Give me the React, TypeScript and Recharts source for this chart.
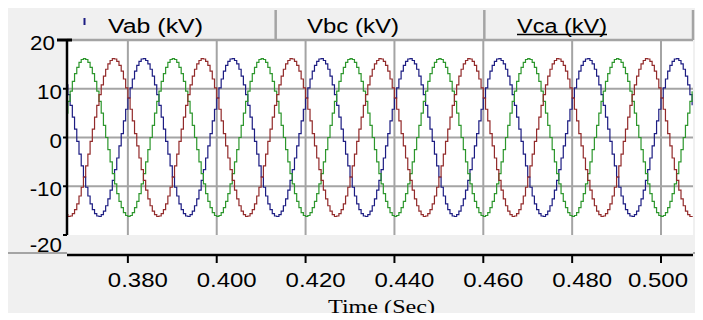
import React from 'react';
import { LineChart, Line, XAxis, YAxis, ReferenceLine, ReferenceArea } from 'recharts';

// Sample times (s)
const timeSec = [
  0.366, 0.3665, 0.367, 0.3675, 0.368, 0.3685, 0.369, 0.3695, 0.37, 0.3705, 0.371, 0.3715, 0.372, 0.3725, 0.373, 0.3735, 0.374, 0.3745, 0.375, 0.3755,
  0.376, 0.3765, 0.377, 0.3775, 0.378, 0.3785, 0.379, 0.3795, 0.38, 0.3805, 0.381, 0.3815, 0.382, 0.3825, 0.383, 0.3835, 0.384, 0.3845, 0.385, 0.3855,
  0.386, 0.3865, 0.387, 0.3875, 0.388, 0.3885, 0.389, 0.3895, 0.39, 0.3905, 0.391, 0.3915, 0.392, 0.3925, 0.393, 0.3935, 0.394, 0.3945, 0.395, 0.3955,
  0.396, 0.3965, 0.397, 0.3975, 0.398, 0.3985, 0.399, 0.3995, 0.4, 0.4005, 0.401, 0.4015, 0.402, 0.4025, 0.403, 0.4035, 0.404, 0.4045, 0.405, 0.4055,
  0.406, 0.4065, 0.407, 0.4075, 0.408, 0.4085, 0.409, 0.4095, 0.41, 0.4105, 0.411, 0.4115, 0.412, 0.4125, 0.413, 0.4135, 0.414, 0.4145, 0.415, 0.4155,
  0.416, 0.4165, 0.417, 0.4175, 0.418, 0.4185, 0.419, 0.4195, 0.42, 0.4205, 0.421, 0.4215, 0.422, 0.4225, 0.423, 0.4235, 0.424, 0.4245, 0.425, 0.4255,
  0.426, 0.4265, 0.427, 0.4275, 0.428, 0.4285, 0.429, 0.4295, 0.43, 0.4305, 0.431, 0.4315, 0.432, 0.4325, 0.433, 0.4335, 0.434, 0.4345, 0.435, 0.4355,
  0.436, 0.4365, 0.437, 0.4375, 0.438, 0.4385, 0.439, 0.4395, 0.44, 0.4405, 0.441, 0.4415, 0.442, 0.4425, 0.443, 0.4435, 0.444, 0.4445, 0.445, 0.4455,
  0.446, 0.4465, 0.447, 0.4475, 0.448, 0.4485, 0.449, 0.4495, 0.45, 0.4505, 0.451, 0.4515, 0.452, 0.4525, 0.453, 0.4535, 0.454, 0.4545, 0.455, 0.4555,
  0.456, 0.4565, 0.457, 0.4575, 0.458, 0.4585, 0.459, 0.4595, 0.46, 0.4605, 0.461, 0.4615, 0.462, 0.4625, 0.463, 0.4635, 0.464, 0.4645, 0.465, 0.4655,
  0.466, 0.4665, 0.467, 0.4675, 0.468, 0.4685, 0.469, 0.4695, 0.47, 0.4705, 0.471, 0.4715, 0.472, 0.4725, 0.473, 0.4735, 0.474, 0.4745, 0.475, 0.4755,
  0.476, 0.4765, 0.477, 0.4775, 0.478, 0.4785, 0.479, 0.4795, 0.48, 0.4805, 0.481, 0.4815, 0.482, 0.4825, 0.483, 0.4835, 0.484, 0.4845, 0.485, 0.4855,
  0.486, 0.4865, 0.487, 0.4875, 0.488, 0.4885, 0.489, 0.4895, 0.49, 0.4905, 0.491, 0.4915, 0.492, 0.4925, 0.493, 0.4935, 0.494, 0.4945, 0.495, 0.4955,
  0.496, 0.4965, 0.497, 0.4975, 0.498, 0.4985, 0.499, 0.4995, 0.5, 0.5005, 0.501, 0.5015, 0.502, 0.5025, 0.503, 0.5035, 0.504, 0.5045, 0.505, 0.5055,
  0.506, 0.5065, 0.507,
];

// Vab (kV) - blue trace
const vab = [
  10.8, 8.8, 6.6, 4.2, 1.7, -0.8, -3.4, -5.8, -8.1, -10.2, -12, -13.6, -14.8, -15.6, -16.1, -16.2, -15.8, -15.1, -14, -12.6,
  -10.8, -8.8, -6.6, -4.2, -1.7, 0.8, 3.4, 5.8, 8.1, 10.2, 12, 13.6, 14.8, 15.6, 16.1, 16.2, 15.8, 15.1, 14, 12.6,
  10.8, 8.8, 6.6, 4.2, 1.7, -0.8, -3.4, -5.8, -8.1, -10.2, -12, -13.6, -14.8, -15.6, -16.1, -16.2, -15.8, -15.1, -14, -12.6,
  -10.8, -8.8, -6.6, -4.2, -1.7, 0.8, 3.4, 5.8, 8.1, 10.2, 12, 13.6, 14.8, 15.6, 16.1, 16.2, 15.8, 15.1, 14, 12.6,
  10.8, 8.8, 6.6, 4.2, 1.7, -0.8, -3.4, -5.8, -8.1, -10.2, -12, -13.6, -14.8, -15.6, -16.1, -16.2, -15.8, -15.1, -14, -12.6,
  -10.8, -8.8, -6.6, -4.2, -1.7, 0.8, 3.4, 5.8, 8.1, 10.2, 12, 13.6, 14.8, 15.6, 16.1, 16.2, 15.8, 15.1, 14, 12.6,
  10.8, 8.8, 6.6, 4.2, 1.7, -0.8, -3.4, -5.8, -8.1, -10.2, -12, -13.6, -14.8, -15.6, -16.1, -16.2, -15.8, -15.1, -14, -12.6,
  -10.8, -8.8, -6.6, -4.2, -1.7, 0.8, 3.4, 5.8, 8.1, 10.2, 12, 13.6, 14.8, 15.6, 16.1, 16.2, 15.8, 15.1, 14, 12.6,
  10.8, 8.8, 6.6, 4.2, 1.7, -0.8, -3.4, -5.8, -8.1, -10.2, -12, -13.6, -14.8, -15.6, -16.1, -16.2, -15.8, -15.1, -14, -12.6,
  -10.8, -8.8, -6.6, -4.2, -1.7, 0.8, 3.4, 5.8, 8.1, 10.2, 12, 13.6, 14.8, 15.6, 16.1, 16.2, 15.8, 15.1, 14, 12.6,
  10.8, 8.8, 6.6, 4.2, 1.7, -0.8, -3.4, -5.8, -8.1, -10.2, -12, -13.6, -14.8, -15.6, -16.1, -16.2, -15.8, -15.1, -14, -12.6,
  -10.8, -8.8, -6.6, -4.2, -1.7, 0.8, 3.4, 5.8, 8.1, 10.2, 12, 13.6, 14.8, 15.6, 16.1, 16.2, 15.8, 15.1, 14, 12.6,
  10.8, 8.8, 6.6, 4.2, 1.7, -0.8, -3.4, -5.8, -8.1, -10.2, -12, -13.6, -14.8, -15.6, -16.1, -16.2, -15.8, -15.1, -14, -12.6,
  -10.8, -8.8, -6.6, -4.2, -1.7, 0.8, 3.4, 5.8, 8.1, 10.2, 12, 13.6, 14.8, 15.6, 16.1, 16.2, 15.8, 15.1, 14, 12.6,
  10.8, 8.8, 6.6,
];

// Vbc (kV) - green trace
const vbc = [
  5, 7.4, 9.5, 11.5, 13.1, 14.4, 15.4, 16, 16.2, 16, 15.4, 14.4, 13.1, 11.5, 9.5, 7.4, 5, 2.5, 0, -2.5,
  -5, -7.4, -9.5, -11.5, -13.1, -14.4, -15.4, -16, -16.2, -16, -15.4, -14.4, -13.1, -11.5, -9.5, -7.4, -5, -2.5, 0, 2.5,
  5, 7.4, 9.5, 11.5, 13.1, 14.4, 15.4, 16, 16.2, 16, 15.4, 14.4, 13.1, 11.5, 9.5, 7.4, 5, 2.5, 0, -2.5,
  -5, -7.4, -9.5, -11.5, -13.1, -14.4, -15.4, -16, -16.2, -16, -15.4, -14.4, -13.1, -11.5, -9.5, -7.4, -5, -2.5, 0, 2.5,
  5, 7.4, 9.5, 11.5, 13.1, 14.4, 15.4, 16, 16.2, 16, 15.4, 14.4, 13.1, 11.5, 9.5, 7.4, 5, 2.5, 0, -2.5,
  -5, -7.4, -9.5, -11.5, -13.1, -14.4, -15.4, -16, -16.2, -16, -15.4, -14.4, -13.1, -11.5, -9.5, -7.4, -5, -2.5, 0, 2.5,
  5, 7.4, 9.5, 11.5, 13.1, 14.4, 15.4, 16, 16.2, 16, 15.4, 14.4, 13.1, 11.5, 9.5, 7.4, 5, 2.5, 0, -2.5,
  -5, -7.4, -9.5, -11.5, -13.1, -14.4, -15.4, -16, -16.2, -16, -15.4, -14.4, -13.1, -11.5, -9.5, -7.4, -5, -2.5, 0, 2.5,
  5, 7.4, 9.5, 11.5, 13.1, 14.4, 15.4, 16, 16.2, 16, 15.4, 14.4, 13.1, 11.5, 9.5, 7.4, 5, 2.5, 0, -2.5,
  -5, -7.4, -9.5, -11.5, -13.1, -14.4, -15.4, -16, -16.2, -16, -15.4, -14.4, -13.1, -11.5, -9.5, -7.4, -5, -2.5, 0, 2.5,
  5, 7.4, 9.5, 11.5, 13.1, 14.4, 15.4, 16, 16.2, 16, 15.4, 14.4, 13.1, 11.5, 9.5, 7.4, 5, 2.5, 0, -2.5,
  -5, -7.4, -9.5, -11.5, -13.1, -14.4, -15.4, -16, -16.2, -16, -15.4, -14.4, -13.1, -11.5, -9.5, -7.4, -5, -2.5, 0, 2.5,
  5, 7.4, 9.5, 11.5, 13.1, 14.4, 15.4, 16, 16.2, 16, 15.4, 14.4, 13.1, 11.5, 9.5, 7.4, 5, 2.5, 0, -2.5,
  -5, -7.4, -9.5, -11.5, -13.1, -14.4, -15.4, -16, -16.2, -16, -15.4, -14.4, -13.1, -11.5, -9.5, -7.4, -5, -2.5, 0, 2.5,
  5, 7.4, 9.5,
];

// Vca (kV) - red trace
const vca = [
  -15.8, -16.2, -16.1, -15.6, -14.8, -13.6, -12, -10.2, -8.1, -5.8, -3.4, -0.8, 1.7, 4.2, 6.6, 8.8, 10.8, 12.6, 14, 15.1,
  15.8, 16.2, 16.1, 15.6, 14.8, 13.6, 12, 10.2, 8.1, 5.8, 3.4, 0.8, -1.7, -4.2, -6.6, -8.8, -10.8, -12.6, -14, -15.1,
  -15.8, -16.2, -16.1, -15.6, -14.8, -13.6, -12, -10.2, -8.1, -5.8, -3.4, -0.8, 1.7, 4.2, 6.6, 8.8, 10.8, 12.6, 14, 15.1,
  15.8, 16.2, 16.1, 15.6, 14.8, 13.6, 12, 10.2, 8.1, 5.8, 3.4, 0.8, -1.7, -4.2, -6.6, -8.8, -10.8, -12.6, -14, -15.1,
  -15.8, -16.2, -16.1, -15.6, -14.8, -13.6, -12, -10.2, -8.1, -5.8, -3.4, -0.8, 1.7, 4.2, 6.6, 8.8, 10.8, 12.6, 14, 15.1,
  15.8, 16.2, 16.1, 15.6, 14.8, 13.6, 12, 10.2, 8.1, 5.8, 3.4, 0.8, -1.7, -4.2, -6.6, -8.8, -10.8, -12.6, -14, -15.1,
  -15.8, -16.2, -16.1, -15.6, -14.8, -13.6, -12, -10.2, -8.1, -5.8, -3.4, -0.8, 1.7, 4.2, 6.6, 8.8, 10.8, 12.6, 14, 15.1,
  15.8, 16.2, 16.1, 15.6, 14.8, 13.6, 12, 10.2, 8.1, 5.8, 3.4, 0.8, -1.7, -4.2, -6.6, -8.8, -10.8, -12.6, -14, -15.1,
  -15.8, -16.2, -16.1, -15.6, -14.8, -13.6, -12, -10.2, -8.1, -5.8, -3.4, -0.8, 1.7, 4.2, 6.6, 8.8, 10.8, 12.6, 14, 15.1,
  15.8, 16.2, 16.1, 15.6, 14.8, 13.6, 12, 10.2, 8.1, 5.8, 3.4, 0.8, -1.7, -4.2, -6.6, -8.8, -10.8, -12.6, -14, -15.1,
  -15.8, -16.2, -16.1, -15.6, -14.8, -13.6, -12, -10.2, -8.1, -5.8, -3.4, -0.8, 1.7, 4.2, 6.6, 8.8, 10.8, 12.6, 14, 15.1,
  15.8, 16.2, 16.1, 15.6, 14.8, 13.6, 12, 10.2, 8.1, 5.8, 3.4, 0.8, -1.7, -4.2, -6.6, -8.8, -10.8, -12.6, -14, -15.1,
  -15.8, -16.2, -16.1, -15.6, -14.8, -13.6, -12, -10.2, -8.1, -5.8, -3.4, -0.8, 1.7, 4.2, 6.6, 8.8, 10.8, 12.6, 14, 15.1,
  15.8, 16.2, 16.1, 15.6, 14.8, 13.6, 12, 10.2, 8.1, 5.8, 3.4, 0.8, -1.7, -4.2, -6.6, -8.8, -10.8, -12.6, -14, -15.1,
  -15.8, -16.2, -16.1,
];

const seriesKeys = ['vab', 'vbc', 'vca'];
const seriesNames = ['Vab (kV)', 'Vbc (kV)', 'Vca (kV)'];
const seriesColors = ['#1c1c82', '#2c962c', '#922a2a'];

const xTicks = [0.38, 0.4, 0.42, 0.44, 0.46, 0.48, 0.5];
const xTickLabels = ['0.380', '0.400', '0.420', '0.440', '0.460', '0.480', '0.500'];
const yTicks = [-20, -10, 0, 10, 20];
const yTickLabels = ['-20', '-10', '0', '10', '20'];
const xAxisTitle = 'Time (Sec)';

const X_DOMAIN: [number, number] = [0.3663, 0.5072];
const Y_DOMAIN: [number, number] = [-24.1, 20];

const W = 692;
const H = 306;
const PLOT_LEFT = 59;
const PLOT_RIGHT = 685;
const GRID = '#a4a4a4';
const SANS = '"Liberation Sans", Arial, sans-serif';
const SERIF = '"Liberation Serif", "Times New Roman", serif';

const rows = timeSec.map((t, i) => ({ t, vab: vab[i], vbc: vbc[i], vca: vca[i] }));

const XTick = (props: any) => {
  const { x, y, payload } = props;
  const i = xTicks.findIndex((v) => Math.abs(v - payload.value) < 1e-9);
  const isLast = i === xTicks.length - 1;
  const start = isLast ? x - 33 : x - 20;
  return (
    <g>
      <line x1={x} x2={x} y1={y} y2={y + 8} stroke="#000" strokeWidth={2} />
      <text
        x={start}
        y={y + 32}
        textLength={60}
        lengthAdjust="spacingAndGlyphs"
        fontSize={21}
        fontFamily={SANS}
        fill="#000"
      >
        {i >= 0 ? xTickLabels[i] : ''}
      </text>
    </g>
  );
};

const YTick = (props: any) => {
  const { x, y, payload } = props;
  const i = yTicks.findIndex((v) => Math.abs(v - payload.value) < 1e-9);
  const isTop = i === yTicks.length - 1;
  const isBottom = i === 0;
  const dy = isBottom ? 17 : 10;
  const right = isTop ? x - 12 : x - 5;
  return (
    <g>
      <line
        x1={isTop ? x - 10 : x - 4}
        x2={isTop ? x + 5 : x}
        y1={y}
        y2={y}
        stroke="#000"
        strokeWidth={isTop ? 3 : 2}
      />
      <text
        transform={`translate(${right},${y + dy}) scale(1.12,1)`}
        textAnchor="end"
        fontSize={20}
        fontFamily={SANS}
        fill="#000"
      >
        {i >= 0 ? yTickLabels[i] : ''}
      </text>
    </g>
  );
};

const legendTextX = [100, 299, 509];
const legendTextW = [95, 92, 90];

const Overlay = () => {
  const cellW = (PLOT_RIGHT - PLOT_LEFT) / 3;
  return (
    <svg
      width={W}
      height={H + 14}
      style={{ position: 'absolute', left: 0, top: 0, overflow: 'visible', pointerEvents: 'none' }}
    >
      {/* header separators */}
      {[1, 2, 3].map((k) => (
        <line
          key={k}
          x1={PLOT_LEFT + cellW * k}
          x2={PLOT_LEFT + cellW * k}
          y1={3}
          y2={33}
          stroke={GRID}
          strokeWidth={2.5}
        />
      ))}
      {/* small marker in first legend cell */}
      <line x1={76.5} x2={76.5} y1={11} y2={18} stroke={seriesColors[0]} strokeWidth={2} />
      {seriesNames.map((n, i) => (
        <g key={n}>
          <text
            x={legendTextX[i]}
            y={26}
            textLength={legendTextW[i]}
            lengthAdjust="spacingAndGlyphs"
            fontSize={20}
            fontFamily={SANS}
            fill="#000"
          >
            {n}
          </text>
          {i === 2 && (
            <line
              x1={legendTextX[i]}
              x2={legendTextX[i] + legendTextW[i]}
              y1={27.5}
              y2={27.5}
              stroke="#000"
              strokeWidth={1.5}
            />
          )}
        </g>
      ))}
      {/* panel divider line beside the axis */}
      <line x1={0} x2={PLOT_LEFT} y1={246} y2={246} stroke={GRID} strokeWidth={2} />
      <line x1={PLOT_RIGHT} x2={W} y1={246} y2={246} stroke={GRID} strokeWidth={2} />
      <text
        x={(PLOT_LEFT + PLOT_RIGHT) / 2 + 1.5}
        y={306}
        textAnchor="middle"
        textLength={107}
        lengthAdjust="spacingAndGlyphs"
        fontSize={19.5}
        fontFamily={SERIF}
        fill="#000"
      >
        {xAxisTitle}
      </text>
    </svg>
  );
};

export default function App() {
  return (
    <div style={{ position: 'relative', width: W, height: H, background: '#f0f0f0', marginTop: -1 }}>
      <LineChart width={W} height={H} data={rows} margin={{ top: 33, right: W - PLOT_RIGHT, bottom: 0, left: 0 }}>
        <XAxis
          type="number"
          dataKey="t"
          domain={X_DOMAIN}
          allowDataOverflow
          ticks={xTicks}
          interval={0}
          tick={(p: any) => <XTick {...p} />}
          tickSize={0}
          tickMargin={0}
          tickLine={false}
          axisLine={{ stroke: '#000', strokeWidth: 2.5 }}
          height={58}
        />
        <YAxis
          type="number"
          domain={Y_DOMAIN}
          allowDataOverflow
          ticks={yTicks}
          interval={0}
          tick={(p: any) => <YTick {...p} />}
          tickSize={0}
          tickMargin={0}
          tickLine={false}
          axisLine={false}
          width={PLOT_LEFT}
        />
        <ReferenceArea
          x1={X_DOMAIN[0]}
          x2={X_DOMAIN[1]}
          y1={yTicks[0]}
          y2={yTicks[yTicks.length - 1]}
          fill="#ffffff"
          fillOpacity={1}
          stroke="none"
        />
        {xTicks.map((v) => (
          <ReferenceLine
            key={`vx${v}`}
            segment={[
              { x: v, y: yTicks[0] },
              { x: v, y: yTicks[yTicks.length - 1] },
            ]}
            stroke={GRID}
            strokeWidth={2}
          />
        ))}
        {yTicks.slice(1, -1).map((v) => (
          <ReferenceLine key={`hy${v}`} y={v} stroke={GRID} strokeWidth={2} />
        ))}
        <ReferenceLine y={yTicks[yTicks.length - 1]} stroke={GRID} strokeWidth={2.5} />
        {seriesKeys.map((k, i) => (
          <Line
            key={k}
            type="stepAfter"
            dataKey={k}
            name={seriesNames[i]}
            stroke={seriesColors[i]}
            strokeWidth={1.2}
            dot={false}
            activeDot={false}
            isAnimationActive={false}
          />
        ))}
        <ReferenceLine
          segment={[
            { x: X_DOMAIN[0], y: yTicks[0] },
            { x: X_DOMAIN[0], y: yTicks[yTicks.length - 1] },
          ]}
          stroke="#000"
          strokeWidth={2.5}
        />
      </LineChart>
      <Overlay />
    </div>
  );
}
